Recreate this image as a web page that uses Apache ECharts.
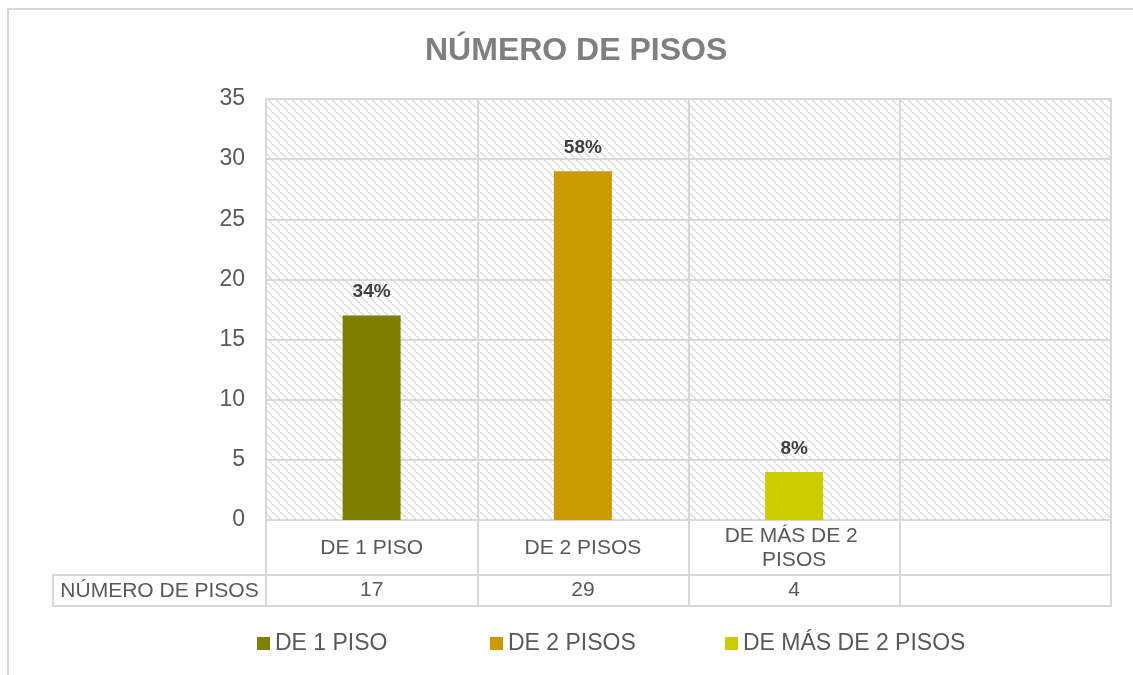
<!DOCTYPE html>
<html>
<head>
<meta charset="utf-8">
<title>NÚMERO DE PISOS</title>
<script src="https://cdn.jsdelivr.net/npm/echarts@6/dist/echarts.min.js"></script>
<style>
  html, body { margin: 0; padding: 0; background: #ffffff; }
  #chart { width: 1133px; height: 675px; }
</style>
</head>
<body>
<div id="chart"></div>
<script>
// Chart data
const chartTitle = 'NÚMERO DE PISOS';
const tableHeader = 'NÚMERO DE PISOS';
const categories = ['DE 1 PISO', 'DE 2 PISOS', 'DE MÁS DE 2 PISOS', ''];
const counts = [17, 29, 4];
const seriesColors = ['#808000', '#CC9900', '#CCCC00'];
const yTicks = { min: 0, max: 35, interval: 5 };

const total = counts.reduce((a, b) => a + b, 0);
const percentOf = v => Math.round(v / total * 100) + '%';

// Diagonal hatch tile for the plot background
function hatchTile() {
  const c = document.createElement('canvas');
  c.width = 8; c.height = 8;
  const ctx = c.getContext('2d');
  ctx.fillStyle = '#ffffff';
  ctx.fillRect(0, 0, 8, 8);
  for (let i = 0; i < 8; i++) {
    ctx.fillStyle = (i % 2 === 0) ? '#d8d8d8' : '#e6e6e6';
    ctx.fillRect(i, i, 2, 1);
  }
  return c;
}

const FONT = '"Liberation Sans", Arial, sans-serif';
const TEXT = '#595959';
const LINE = '#d9d9d9';

const chart = echarts.init(document.getElementById('chart'), null, { renderer: 'canvas' });

// one bar series per category so each gets its own legend entry
const series = categories.slice(0, counts.length).map((name, i) => ({
  name: name,
  type: 'bar',
  xAxisIndex: 0,
  yAxisIndex: 0,
  barWidth: 58,
  barGap: '-100%',
  itemStyle: { color: seriesColors[i] },
  label: {
    show: true,
    position: 'top',
    distance: 14,
    fontFamily: FONT,
    fontWeight: 'bold',
    fontSize: 19,
    color: '#404040',
    formatter: p => percentOf(p.value)
  },
  data: categories.map((c, j) => (j === i ? counts[i] : '-'))
}));

const legends = categories.slice(0, counts.length).map((name, i) => ({
  data: [name],
  left: [252, 485, 720][i],
  top: 627,
  icon: 'rect',
  itemWidth: 13,
  itemHeight: 13,
  textStyle: { fontFamily: FONT, fontSize: 23, color: TEXT },
  selectedMode: false
}));

const option = {
  backgroundColor: '#ffffff',
  animation: false,
  title: {
    text: chartTitle,
    left: 420,
    top: 30,
    textStyle: { fontFamily: FONT, fontWeight: 'bold', fontSize: 32, color: '#7f7f7f' }
  },
  legend: legends,
  grid: [
    // plot area
    { left: 266, right: 22, top: 99, height: 421, show: true,
      backgroundColor: { image: hatchTile(), repeat: 'repeat' },
      borderColor: LINE, borderWidth: 2 },
    // category label row
    { left: 266, right: 22, top: 520, height: 55, show: true,
      backgroundColor: 'transparent', borderColor: LINE, borderWidth: 2 },
    // value row of the data table
    { left: 266, right: 22, top: 575, height: 31, show: true,
      backgroundColor: 'transparent', borderColor: LINE, borderWidth: 2 }
  ],
  xAxis: [
    { gridIndex: 0, type: 'category', data: categories, boundaryGap: true,
      axisLine: { show: true, lineStyle: { color: LINE, width: 2 } },
      axisTick: { show: false },
      splitLine: { show: true, lineStyle: { color: LINE, width: 2 } },
      axisLabel: {
        show: true, interval: 0, margin: 28, verticalAlign: 'middle',
        fontFamily: FONT, fontSize: 21, color: TEXT, lineHeight: 24,
        width: 150, overflow: 'break'
      } },
    { gridIndex: 1, type: 'category', data: categories, boundaryGap: true,
      axisLine: { show: false }, axisTick: { show: false }, axisLabel: { show: false },
      splitLine: { show: true, lineStyle: { color: LINE, width: 2 } } },
    { gridIndex: 2, type: 'category', data: categories, boundaryGap: true,
      axisLine: { show: false }, axisTick: { show: false },
      splitLine: { show: true, lineStyle: { color: LINE, width: 2 } },
      axisLabel: {
        show: true, interval: 0, margin: -15.5, verticalAlign: 'middle',
        fontFamily: FONT, fontSize: 21, color: TEXT,
        formatter: (v, idx) => (counts[idx] !== undefined ? String(counts[idx]) : '')
      } }
  ],
  yAxis: [
    { gridIndex: 0, type: 'value', min: yTicks.min, max: yTicks.max, interval: yTicks.interval,
      axisLine: { show: false }, axisTick: { show: false },
      splitLine: { show: true, lineStyle: { color: LINE, width: 2 } },
      axisLabel: { margin: 21, fontFamily: FONT, fontSize: 23, color: TEXT } },
    { gridIndex: 1, type: 'value', show: false },
    { gridIndex: 2, type: 'value', show: false }
  ],
  graphic: [
    // outer chart frame
    { type: 'rect', z: -10, silent: true,
      shape: { x: 8, y: 9, width: 1200, height: 800 },
      style: { fill: 'none', stroke: LINE, lineWidth: 2 } },
    // data table header cell
    { type: 'rect', silent: true,
      shape: { x: 53, y: 575, width: 213, height: 31 },
      style: { fill: 'none', stroke: LINE, lineWidth: 2 } },
    { type: 'text', silent: true, x: 159.5, y: 591,
      style: { text: tableHeader, fontFamily: FONT, fontSize: 21, fill: TEXT,
               align: 'center', verticalAlign: 'middle' } }
  ],
  series: series
};

chart.setOption(option);
</script>
</body>
</html>
